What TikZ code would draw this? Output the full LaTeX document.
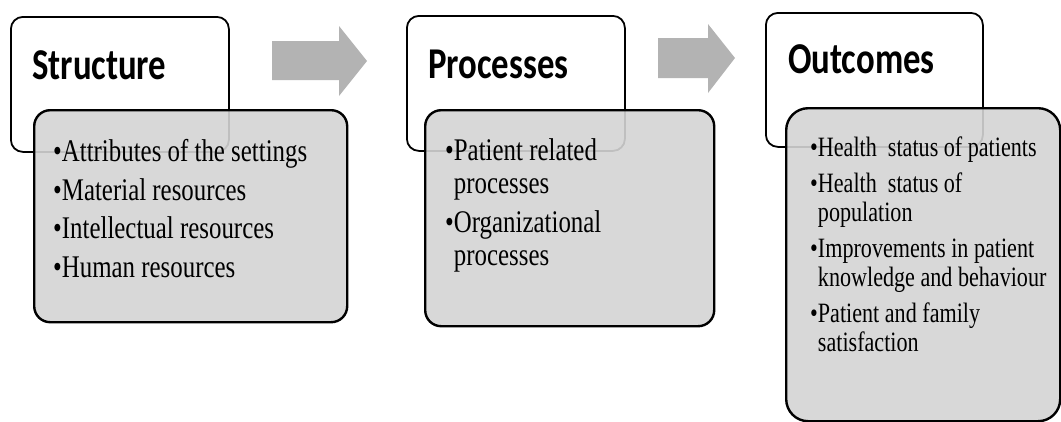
\documentclass[tikz,border=0pt]{standalone}
\usepackage{fontspec}
\newfontfamily\hdrfont[FakeStretch=0.79]{Carlito}
\newfontfamily\bodyfont[FakeStretch=0.79]{Liberation Serif}
\newcommand\mybul{•}
\newcommand\myind{\phantom{•}}
\definecolor{boxgray}{HTML}{D4D4D4}
\definecolor{arrgray}{HTML}{B3B3B3}
\tikzset{
  hdrbox/.style={draw=black, line width=1.8pt, fill=white, rounded corners=12pt, anchor=north west, inner sep=0pt},
  graybox/.style={draw=black, line width=2.4pt, fill=boxgray, fill opacity=0.9, rounded corners=16pt, anchor=north west, inner sep=0pt},
  hdrtext/.style={font=\hdrfont\bfseries\fontsize{44}{50}\selectfont, anchor=base west, inner sep=0pt},
  bodytext/.style={font=\bodyfont\fontsize{31.5}{33}\selectfont, align=left, anchor=base west, inner sep=0pt},
  smalltext/.style={font=\bodyfont\fontsize{28}{28.5}\selectfont, align=left, anchor=base west, inner sep=0pt},
  blockarrow/.style={fill=arrgray, draw=none}
}
\begin{document}
\begin{tikzpicture}[x=1pt,y=-1pt]
\useasboundingbox (0,0) rectangle (1061,421);
% block arrows
\fill[blockarrow] (272,41) -- (339,41) -- (339,26) -- (367,61) -- (339,96) -- (339,80) -- (272,80) -- cycle;
\fill[blockarrow] (658,38) -- (708,38) -- (708,24) -- (735,58) -- (708,93) -- (708,78) -- (658,78) -- cycle;
% Structure
\node[hdrbox, minimum width=218pt, minimum height=135pt] (h1) at (10,16) {};
\node[hdrtext] (t1) at (32,79) {Structure};
\node[graybox, minimum width=313pt, minimum height=212pt] (g1) at (33,109) {};
\node[bodytext, font=\bodyfont\fontsize{31.5}{38.5}\selectfont] (b1) at (53,277) {\mybul Attributes of the settings\\
\mybul Material resources\\
\mybul Intellectual resources\\
\mybul Human resources};
% Processes
\node[hdrbox, minimum width=218pt, minimum height=135pt] (h2) at (406,15) {};
\node[hdrtext] (t2) at (428,78) {Processes};
\node[graybox, minimum width=289pt, minimum height=216pt] (g2) at (424,109) {};
\node[bodytext] (b2) at (445,265) {\mybul Patient related\\
\myind processes\\[6pt]
\mybul Organizational\\
\myind processes};
% Outcomes
\node[hdrbox, minimum width=217pt, minimum height=134pt] (h3) at (765,12) {};
\node[hdrtext] (t3) at (788,73) {Outcomes};
\node[graybox, rounded corners=22pt, minimum width=274pt, minimum height=313pt] (g3) at (785,107) {};
\node[smalltext] (b3) at (810,351) {\mybul Health~ status of patients\\[8pt]
\mybul Health~ status of\\
\myind population\\[8pt]
\mybul Improvements in patient\\
\myind knowledge and behaviour\\[8pt]
\mybul Patient and family\\
\myind satisfaction};
\end{tikzpicture}
\end{document}
